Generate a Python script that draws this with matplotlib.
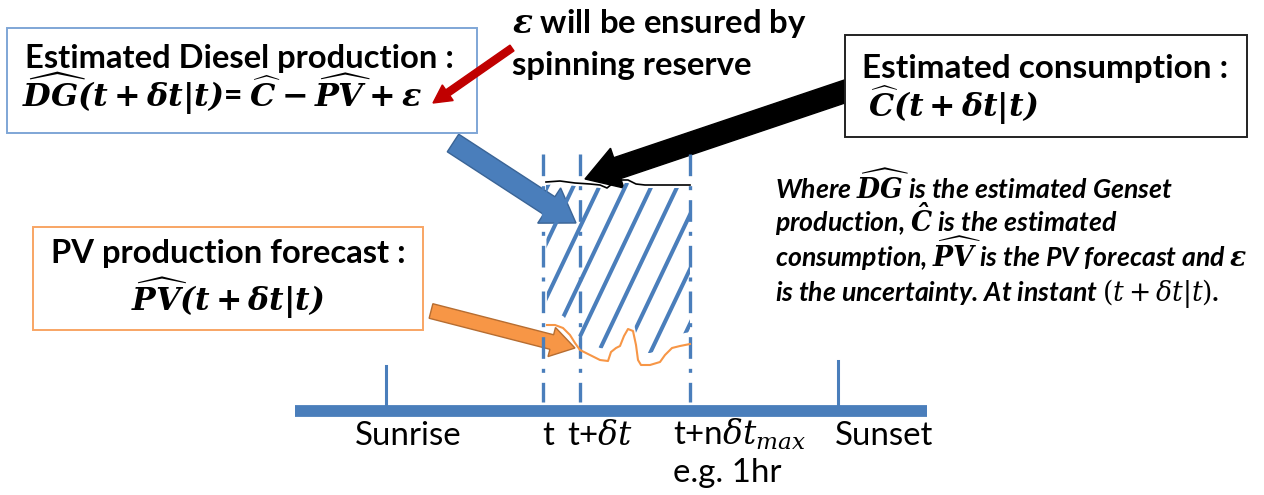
import matplotlib
matplotlib.use('Agg')
import matplotlib.pyplot as plt
from matplotlib.patches import FancyArrow, Rectangle, Polygon
import numpy as np

plt.rcParams['mathtext.fontset'] = 'custom'
plt.rcParams['mathtext.rm'] = 'DejaVu Serif'
plt.rcParams['mathtext.it'] = 'DejaVu Serif:italic'
plt.rcParams['mathtext.bf'] = 'DejaVu Serif:italic:bold'

SANS = ['Lato', 'DejaVu Sans']

# ---- data ----
timeline_labels = ['Sunrise', 't', r't+$\delta t$', r't+n$\delta t_{max}$', 'Sunset']
horizon_note = 'e.g. 1hr'
box_titles = ['Estimated Diesel production :', 'Estimated consumption :', 'PV production forecast :']
box_formulas = [r'$\mathbf{\widehat{DG}(t+\delta t|t)}$= $\mathbf{\widehat{C}-\widehat{PV}+\varepsilon}$',
                r'$\mathbf{\widehat{C}(t+\delta t|t)}$',
                r'$\mathbf{\widehat{PV}(t+\delta t|t)}$']
reserve_lines = [r'$\mathbf{\varepsilon}$ will be ensured by', 'spinning reserve']
note_lines = [r'Where $\mathbf{\widehat{DG}}$ is the estimated Genset',
              r'production, $\mathbf{\hat{C}}$ is the estimated',
              r'consumption, $\mathbf{\widehat{PV}}$ is the PV forecast and $\mathbf{\varepsilon}$',
              r'is the uncertainty. At instant $(t+\delta t|t)$.']
# consumption estimate curve (pixel space of the sketch)
cons_x = [546, 560, 575, 590, 600, 607, 612, 620, 628, 636, 645, 670, 690]
cons_y = [182, 181, 183, 184, 185, 188, 184, 180, 180, 184, 185, 185, 185]
# PV forecast curve
pv_x = [547, 555, 563, 570, 575, 580, 590, 600, 608, 611, 616, 620, 624, 628, 633, 636, 638, 641, 650, 660, 665, 672, 680, 690]
pv_y = [325, 325, 328, 335, 343, 350, 355, 360, 361, 352, 348, 346, 336, 329, 331, 345, 360, 365, 365, 362, 355, 348, 346, 344]

BLUE = '#4A7EBB'
ORANGE = '#F79646'

fig = plt.figure(figsize=(12.64, 4.95), dpi=100)
ax = fig.add_axes([0, 0, 1, 1])
ax.set_xlim(0, 1264)
ax.set_ylim(495, 0)
ax.axis('off')
renderer = fig.canvas.get_renderer()


def fit(x, y, s, w, ha='left', va='baseline', size=None, **kw):
    t = ax.text(x, y, s, fontsize=20 if size is None else size, ha=ha, va=va, zorder=6, **kw)
    if size is None:
        bb = t.get_window_extent(renderer=renderer)
        t.set_fontsize(20 * w / bb.width)
    return t

# ---- timeline ----
ax.plot([295, 927], [411, 411], color=BLUE, lw=8.5, solid_capstyle='butt', zorder=4)
ax.plot([386, 386], [366, 407], color=BLUE, lw=2.2, zorder=4)
ax.plot([838, 838], [361, 407], color=BLUE, lw=2.2, zorder=4)
for xv in [543, 580, 690]:
    ax.plot([xv, xv], [154, 402], color=BLUE, lw=2.4, ls=(0, (6.5, 3, 1.2, 3)),
            dash_capstyle='butt', zorder=4)

# ---- hatched diesel area ----
poly_pts = list(zip(cons_x, np.array(cons_y) + 3)) + list(zip(pv_x[::-1], np.array(pv_y[::-1]) - 12))
clip = Polygon(poly_pts, closed=True, facecolor='none', edgecolor='none')
ax.add_patch(clip)
for c in np.arange(508, 800, 26):
    ln, = ax.plot([c, c - 0.476 * 260], [160, 420], color=BLUE, lw=2.9,
                  solid_capstyle='butt', zorder=3)
    ln.set_clip_path(clip)

ax.plot(cons_x, cons_y, color='black', lw=1.2, zorder=4)
ax.plot(pv_x, pv_y, color=ORANGE, lw=1.5, zorder=4)

# ---- arrows ----
def arrow(x0, y0, x1, y1, w, hw, hl, fc, ec, z):
    a = FancyArrow(x0, y0, x1 - x0, y1 - y0, width=w, head_width=hw, head_length=hl,
                   length_includes_head=True, facecolor=fc, edgecolor=ec, lw=1.0, zorder=z)
    ax.add_patch(a)

arrow(453, 143, 576, 223, 21, 42, 32, BLUE, '#3A6496', 2)
arrow(431, 311, 575, 348, 15, 30, 24, ORANGE, '#B66D31', 2)
arrow(855, 88, 585, 179, 22, 42, 34, 'black', 'black', 2)
arrow(512, 48, 433, 103, 7, 19, 18, '#C00000', '#C00000', 7)

# ---- boxes ----
ax.add_patch(Rectangle((7, 28), 470, 105, facecolor='white', edgecolor='#7FA6D6', lw=1.4, zorder=3))
ax.add_patch(Rectangle((845, 35), 402, 102, facecolor='white', edgecolor='#222222', lw=1.4, zorder=3))
ax.add_patch(Rectangle((33, 227), 390, 103, facecolor='white', edgecolor='#F8A564', lw=1.4, zorder=3))

fit(25, 68, box_titles[0], 430, fontweight='bold', family=SANS)
fit(22, 107, box_formulas[0], 400, fontweight='bold', family=SANS)
fit(862, 78, box_titles[1], 366, fontweight='bold', family=SANS)
fit(868, 117, box_formulas[1], 170, family=SANS)
fit(228, 263, box_titles[2], 355, ha='center', fontweight='bold', family=SANS)
fit(228, 311, box_formulas[2], 193, ha='center', family=SANS)

t = fit(512, 33, reserve_lines[0], 295, fontweight='bold', family=SANS)
fit(512, 75, reserve_lines[1], 0, size=t.get_fontsize(), fontweight='bold', family=SANS)

t = fit(775, 267, note_lines[2], 473, fontweight='bold', fontstyle='italic', family=SANS)
fs = t.get_fontsize()
for s, yb in zip([note_lines[0], note_lines[1], note_lines[3]], [199, 232, 301]):
    fit(775, yb, s, 0, size=fs, fontweight='bold', fontstyle='italic', family=SANS)

# ---- timeline labels ----
t = fit(355, 445, timeline_labels[0], 107, family=SANS)
lf = t.get_fontsize()
fit(542, 445, timeline_labels[1], 0, size=lf, family=SANS)
fit(567, 445, timeline_labels[2], 0, size=lf, family=SANS)
fit(673, 445, timeline_labels[3], 0, size=lf, family=SANS)
fit(673, 482, horizon_note, 0, size=lf, family=SANS)
fit(835, 445, timeline_labels[4], 0, size=lf, family=SANS)

fig.savefig('out.png', dpi=100, facecolor='white')
